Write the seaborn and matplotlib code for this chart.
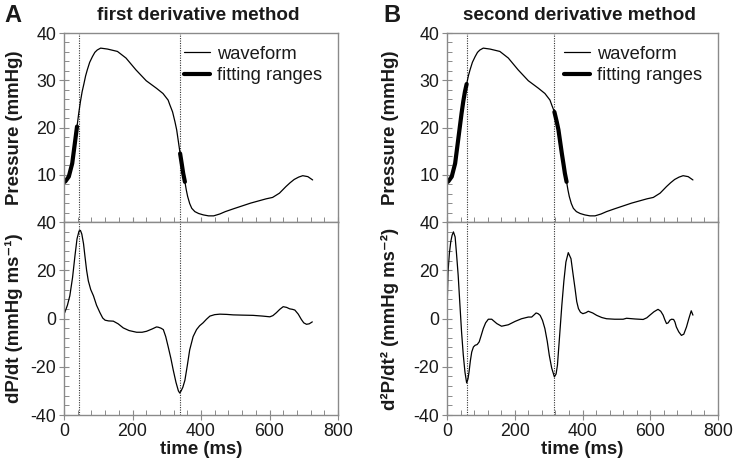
import numpy as np
import pandas as pd
import matplotlib
matplotlib.use("Agg")
import matplotlib.pyplot as plt
import seaborn as sns
from matplotlib.ticker import MultipleLocator

# ---------------- data ----------------
time_p = [0, 4, 14, 24, 33, 38, 43, 48, 53, 58, 63, 68, 75, 83, 90, 97, 107, 127, 156, 181,
          210, 240, 270, 289, 304, 309, 317, 324, 329, 334, 339, 344, 348, 353, 357, 361, 367,
          373, 382, 393, 407, 422, 437, 455, 471, 495, 520, 545, 570, 590, 609, 629, 648, 660,
          672, 685, 697, 712, 726]
pressure = [8.4, 8.6, 9.6, 12.4, 17.4, 20.2, 23.0, 25.5, 27.6, 29.2, 30.9, 32.2, 33.8, 35.0,
            35.9, 36.4, 36.8, 36.6, 36.1, 34.7, 32.2, 29.9, 28.3, 27.2, 25.8, 24.8, 23.3, 21.2,
            19.5, 17.0, 14.5, 12.2, 10.3, 8.5, 6.8, 5.4, 3.9, 2.9, 2.2, 1.8, 1.5, 1.3, 1.3, 1.7,
            2.2, 2.8, 3.4, 4.0, 4.5, 4.9, 5.2, 6.1, 7.5, 8.3, 9.0, 9.5, 9.8, 9.6, 8.9]

time_d1 = [2, 10, 17, 25, 32, 38, 44, 48, 52, 57, 61, 66, 71, 78, 86, 95, 105, 113, 120, 130,
           144, 158, 173, 190, 212, 228, 241, 258, 270, 275, 283, 290, 297, 304, 312, 319, 327,
           334, 338, 342, 347, 353, 360, 367, 377, 387, 396, 406, 416, 426, 440, 455, 475, 494,
           520, 552, 580, 601, 610, 620, 630, 640, 650, 659, 667, 674, 684, 693, 700, 708, 716,
           725]
dpdt = [2.4, 5.5, 9.4, 17.0, 26.0, 33.0, 36.3, 36.5, 35.0, 31.0, 26.0, 20.0, 15.6, 12.0, 9.4,
        5.5, 2.4, 0.2, -0.7, -1.0, -1.1, -2.2, -3.9, -5.0, -5.7, -5.7, -5.3, -4.3, -3.5, -3.6,
        -4.0, -4.6, -7.5, -11.6, -16.5, -21.4, -26.5, -30.0, -30.9, -30.0, -28.5, -25.6, -19.5,
        -13.0, -7.5, -4.6, -3.0, -1.8, -0.3, 1.0, 1.6, 1.8, 1.7, 1.5, 1.4, 1.3, 1.0, 0.7, 1.2,
        2.4, 3.8, 4.9, 4.6, 4.0, 3.8, 3.5, 1.8, -0.4, -1.8, -2.4, -2.2, -1.4]

time_d2 = [1, 3, 7, 11, 15, 19, 24, 28, 33, 38, 43, 48, 53, 58, 62, 65, 69, 73, 78, 83, 89,
           95, 101, 107, 114, 122, 132, 147, 161, 181, 201, 220, 240, 250, 257, 263, 269, 275,
           282, 289, 296, 302, 309, 317, 322, 326, 332, 339, 345, 351, 358, 366, 372, 378, 383,
           388, 394, 401, 410, 417, 430, 442, 457, 471, 495, 520, 530, 555, 579, 590, 599, 611,
           623, 631, 638, 643, 648, 653, 658, 663, 669, 673, 677, 684, 692, 699, 707, 714, 721,
           726]
d2pdt2 = [8.2, 19.3, 27.0, 31.7, 34.5, 35.9, 33.8, 27.0, 17.9, 6.0, -5.6, -15.0, -22.2, -26.7,
          -25.0, -22.2, -17.5, -13.9, -11.8, -11.1, -10.8, -9.7, -7.0, -4.2, -1.8, -0.3, -0.3,
          -2.1, -3.2, -2.6, -1.2, -0.1, 0.6, 0.6, 1.5, 2.3, 2.0, 1.3, -0.8, -4.2, -9.5, -15.3,
          -20.5, -24.2, -23.0, -19.4, -8.0, 5.5, 15.5, 23.4, 27.3, 24.8, 18.5, 12.4, 7.0, 4.1,
          2.6, 2.0, 2.4, 3.0, 2.3, 1.3, 0.4, -0.1, -0.3, -0.3, 0.1, -0.2, -0.4, 0.3, 1.4, 2.8,
          3.8, 3.0, 1.4, -0.5, -2.1, -1.8, -0.7, -0.3, -0.4, -1.5, -3.5, -5.5, -7.0, -6.5, -3.5,
          0.0, 3.2, 1.4]

fit_ranges_A = [(0, 38), (339, 353)]
fit_ranges_B = [(0, 58), (317, 353)]
marker_lines_A = [44, 339]
marker_lines_B = [58, 317]

titles = ["first derivative method", "second derivative method"]
panel_letters = ["A", "B"]
deriv_labels = ["dP/dt (mmHg ms\u207b\u00b9)", "d\u00b2P/dt\u00b2 (mmHg ms\u207b\u00b2)"]

# ---------------- style ----------------
sns.set_theme(style="white")
plt.rcParams["font.family"] = ["Liberation Sans", "DejaVu Sans"]
plt.rcParams["axes.unicode_minus"] = False
plt.rcParams["axes.edgecolor"] = "#8a8a8a"
plt.rcParams["axes.linewidth"] = 1.0
plt.rcParams["xtick.color"] = "#8a8a8a"
plt.rcParams["ytick.color"] = "#8a8a8a"
plt.rcParams["xtick.labelcolor"] = "#1a1a1a"
plt.rcParams["ytick.labelcolor"] = "#1a1a1a"
plt.rcParams["text.color"] = "#1a1a1a"
plt.rcParams["axes.labelcolor"] = "#1a1a1a"

df_p = pd.DataFrame({"time": time_p, "pressure": pressure})
df_d1 = pd.DataFrame({"time": time_d1, "value": dpdt})
df_d2 = pd.DataFrame({"time": time_d2, "value": d2pdt2})

fig = plt.figure(figsize=(7.34, 4.66), dpi=100)

W, H = 734, 466
def rect(x0, x1, y0, y1):
    return [x0 / W, 1 - y1 / H, (x1 - x0) / W, (y1 - y0) / H]

axes_cols = [
    (rect(64, 338, 33, 222), rect(64, 338, 222, 415)),
    (rect(447, 718, 33, 222), rect(447, 718, 222, 415)),
]
fits = [fit_ranges_A, fit_ranges_B]
markers = [marker_lines_A, marker_lines_B]
derivs = [df_d1, df_d2]
ylabel_x = [23 / W, 399 / W]

LBL = 13.4
TCK = 12.8

for i in range(2):
    ax_top = fig.add_axes(axes_cols[i][0])
    ax_bot = fig.add_axes(axes_cols[i][1])

    sns.lineplot(data=df_p, x="time", y="pressure", ax=ax_top, color="black",
                 linewidth=0.9, label="waveform", estimator=None, sort=False)
    for k, (a, b) in enumerate(fits[i]):
        seg = df_p[(df_p["time"] >= a) & (df_p["time"] <= b)]
        sns.lineplot(data=seg, x="time", y="pressure", ax=ax_top, color="black",
                     linewidth=3.0, label="fitting ranges" if k == 0 else None,
                     estimator=None, sort=False)

    sns.lineplot(data=derivs[i], x="time", y="value", ax=ax_bot, color="black",
                 linewidth=0.9, estimator=None, sort=False)

    for ax in (ax_top, ax_bot):
        for m in markers[i]:
            ax.axvline(m, color="#333333", linestyle=(0, (1, 1.2)), linewidth=0.8, zorder=1)
        ax.set_xlim(0, 800)
        ax.xaxis.set_major_locator(MultipleLocator(200))
        ax.xaxis.set_minor_locator(MultipleLocator(40))
        ax.tick_params(axis="both", which="major", direction="inout", length=7, width=0.8,
                       labelsize=TCK, pad=2)
        ax.tick_params(axis="both", which="minor", direction="in", length=3.5, width=0.7)
        ax.tick_params(axis="x", which="both", top=False, bottom=True)
        ax.tick_params(axis="y", which="both", left=True, right=False)
        for s in ax.spines.values():
            s.set_visible(True)
            s.set_color("#8a8a8a")

    ax_top.set_ylim(0, 40)
    ax_top.set_yticks([10, 20, 30, 40])
    ax_top.yaxis.set_minor_locator(MultipleLocator(2))
    ax_top.set_xticklabels([])
    ax_top.set_xlabel("")
    ax_top.set_ylabel("Pressure (mmHg)", fontsize=LBL, fontweight="bold")

    ax_bot.set_ylim(-40, 40)
    ax_bot.set_yticks([-40, -20, 0, 20, 40])
    ax_bot.yaxis.set_minor_locator(MultipleLocator(4))
    ax_bot.set_xlabel("time (ms)", fontsize=LBL, fontweight="bold", labelpad=1)
    ax_bot.set_ylabel(deriv_labels[i], fontsize=LBL, fontweight="bold")

    for ax in (ax_top, ax_bot):
        ax.yaxis.set_label_coords(ylabel_x[i], ax.get_position().y0 + ax.get_position().height / 2,
                                  transform=fig.transFigure)

    ax_top.legend(loc="upper right", frameon=False, fontsize=13.2, handlelength=1.4,
                  handletextpad=0.4, labelspacing=0.25, borderaxespad=0.3,
                  bbox_to_anchor=(0.99, 1.0))

    cx = axes_cols[i][0][0] + axes_cols[i][0][2] / 2
    fig.text(cx - 0.004, 1 - 16 / H, titles[i], ha="center", va="center", fontsize=13.6,
             fontweight="bold")
    fig.text([4 / W, 383 / W][i], 1 - 15 / H, panel_letters[i], ha="left", va="center",
             fontsize=17, fontweight="bold")

fig.savefig("out.png", dpi=100)
